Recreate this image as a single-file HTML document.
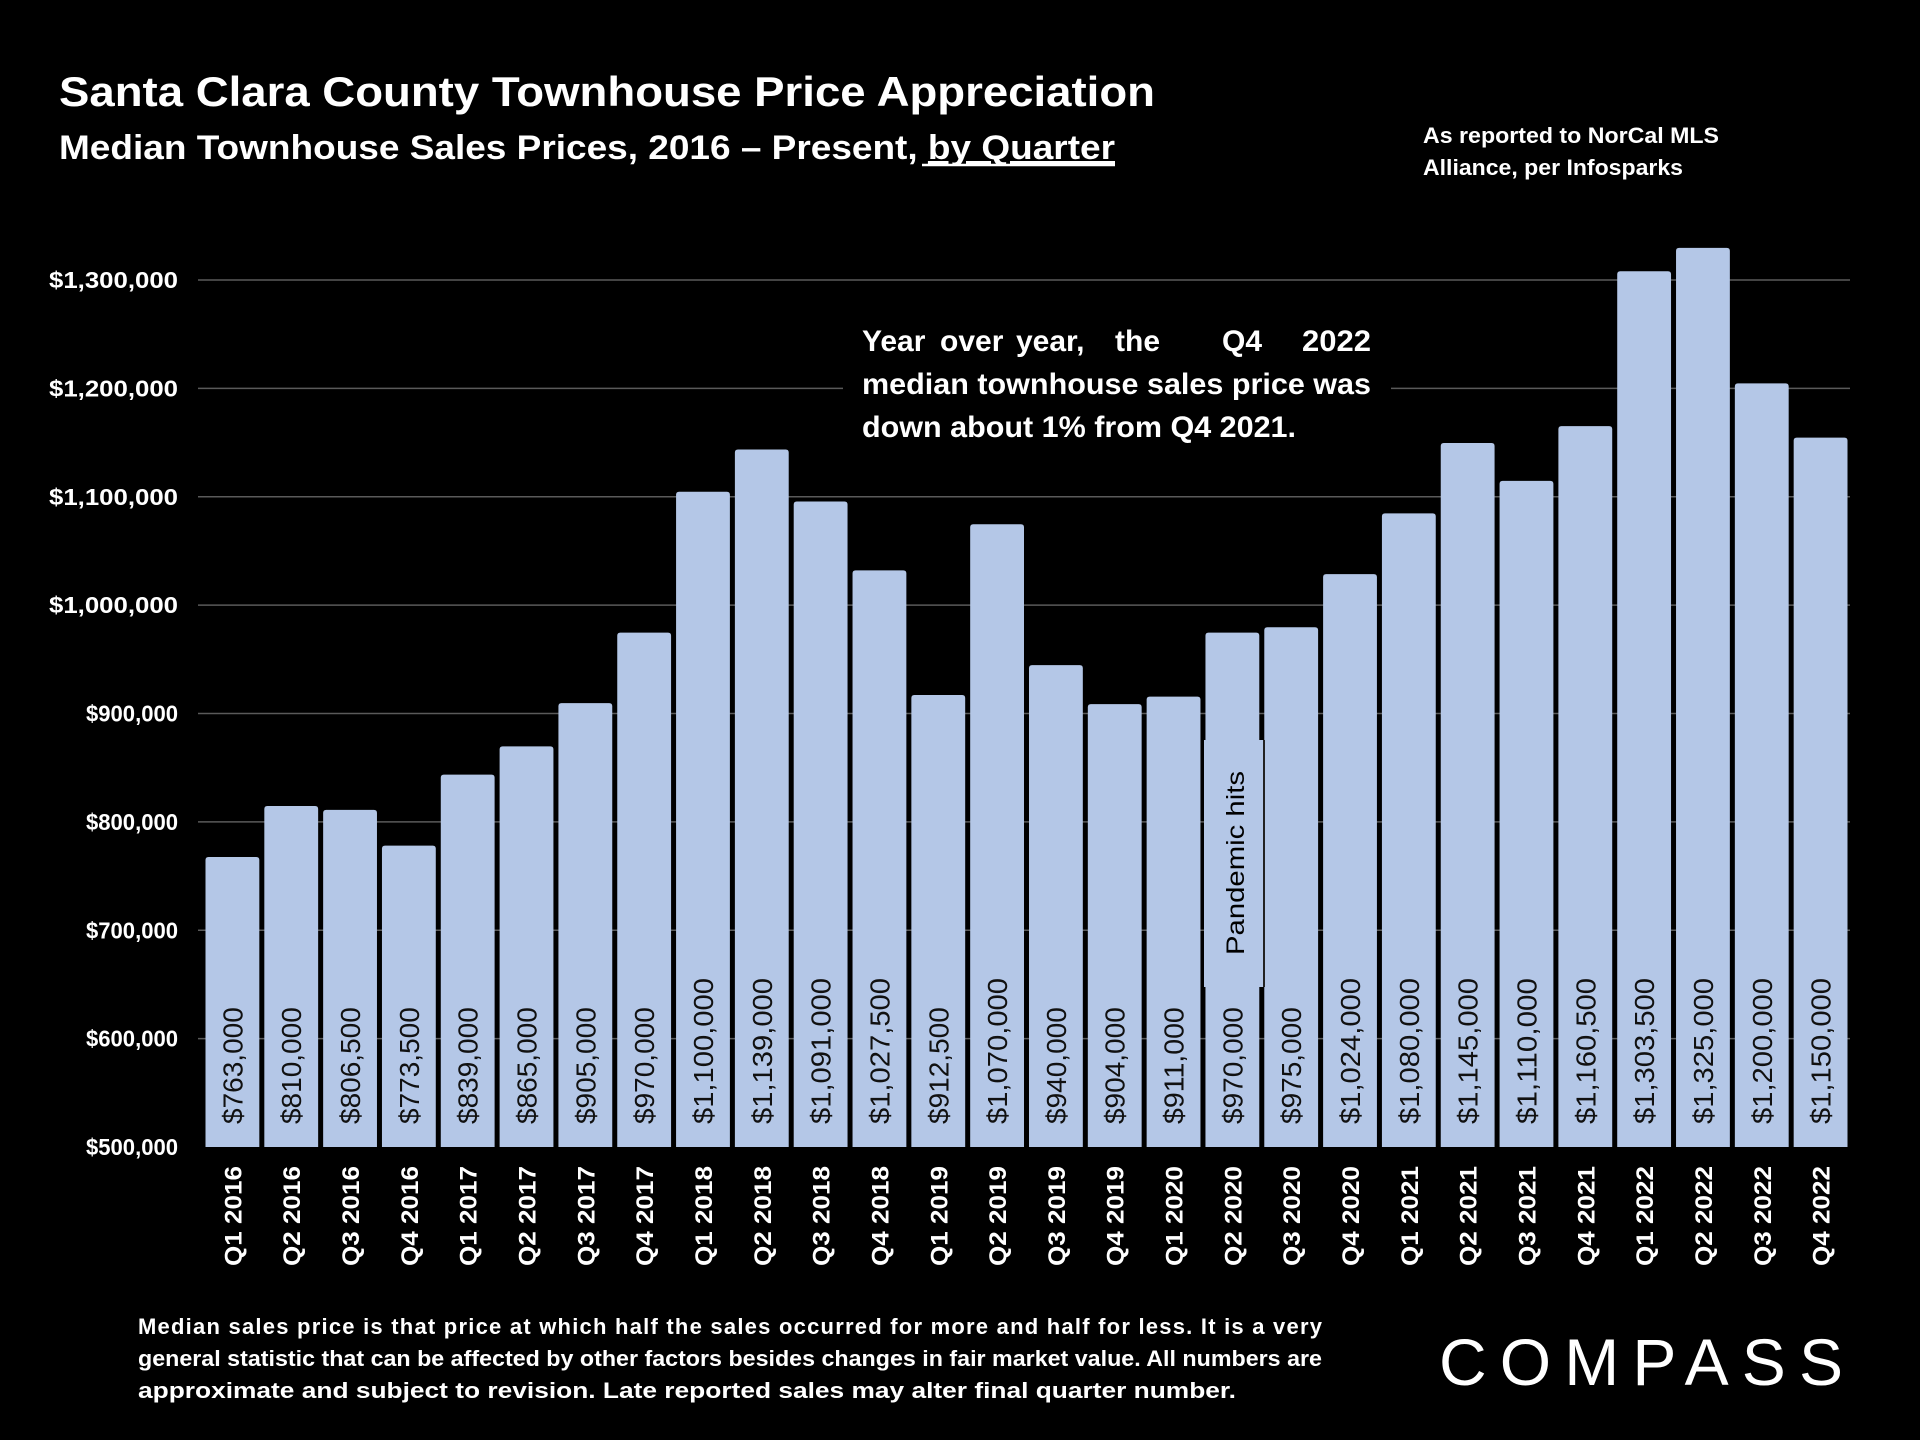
<!DOCTYPE html>
<html><head><meta charset="utf-8"><style>
html,body{margin:0;padding:0;background:#000;}
svg{display:block;}
text{font-family:"Liberation Sans",sans-serif;}
</style></head><body>
<svg id="chart" width="1920" height="1440" viewBox="0 0 1920 1440" xmlns="http://www.w3.org/2000/svg">
<rect width="1920" height="1440" fill="#000"/>
<text x="59" y="106" fill="#fff" font-size="42" font-weight="bold" textLength="1096" lengthAdjust="spacingAndGlyphs">Santa Clara County Townhouse Price Appreciation</text>
<text x="59" y="159" fill="#fff" font-size="34" font-weight="bold" textLength="1056" lengthAdjust="spacingAndGlyphs">Median Townhouse Sales Prices, 2016 – Present, <tspan text-decoration="underline">by Quarter</tspan></text>
<line x1="922" y1="165" x2="1115" y2="165" stroke="#fff" stroke-width="2.5"/>
<text fill="#fff" font-size="22" font-weight="bold"><tspan x="1423" y="143" textLength="296" lengthAdjust="spacingAndGlyphs">As reported to NorCal MLS</tspan><tspan x="1423" y="175" textLength="260" lengthAdjust="spacingAndGlyphs">Alliance, per Infosparks</tspan></text>
<g id="grid"></g>
<g id="yaxis"></g>
<g id="bars"></g>
<g id="xaxis"></g>
<rect x="843" y="318" width="548" height="132" fill="#000"/>
<text fill="#fff" font-size="30" font-weight="bold"><tspan x="862" y="351">Year</tspan><tspan x="940" y="351">over</tspan><tspan x="1016" y="351">year,</tspan><tspan x="1115" y="351">the</tspan><tspan x="1222" y="351">Q4</tspan><tspan x="1302" y="351" textLength="69" lengthAdjust="spacingAndGlyphs">2022</tspan><tspan x="862" y="394" textLength="509" lengthAdjust="spacingAndGlyphs">median townhouse sales price was</tspan><tspan x="862" y="437" textLength="434" lengthAdjust="spacingAndGlyphs">down about 1% from Q4 2021.</tspan></text>
<g>
<rect x="1204" y="740" width="60" height="247" fill="#b4c7e7"/>
<line x1="1264" y1="740" x2="1264" y2="987" stroke="#222" stroke-width="2"/>
<text x="1244" y="955" transform="rotate(-90 1244 955)" fill="#000" font-size="25" textLength="184" lengthAdjust="spacingAndGlyphs">Pandemic hits</text>
</g>
<text fill="#fff" font-size="22" font-weight="bold"><tspan x="138" y="1334" textLength="1184" lengthAdjust="spacing">Median sales price is that price at which half the sales occurred for more and half for less. It is a very</tspan><tspan x="138" y="1366" textLength="1184" lengthAdjust="spacingAndGlyphs">general statistic that can be affected by other factors besides changes in fair market value. All numbers are</tspan><tspan x="138" y="1398" textLength="1098" lengthAdjust="spacingAndGlyphs">approximate and subject to revision. Late reported sales may alter final quarter number.</tspan></text>
<text x="1439" y="1385" fill="#fff" font-size="66" textLength="404" lengthAdjust="spacing">COMPASS</text>
</svg>
<script>
const categories = ["Q1 2016","Q2 2016","Q3 2016","Q4 2016","Q1 2017","Q2 2017","Q3 2017","Q4 2017","Q1 2018","Q2 2018","Q3 2018","Q4 2018","Q1 2019","Q2 2019","Q3 2019","Q4 2019","Q1 2020","Q2 2020","Q3 2020","Q4 2020","Q1 2021","Q2 2021","Q3 2021","Q4 2021","Q1 2022","Q2 2022","Q3 2022","Q4 2022"];
const values = [763000,810000,806500,773500,839000,865000,905000,970000,1100000,1139000,1091000,1027500,912500,1070000,940000,904000,911000,970000,975000,1024000,1080000,1145000,1110000,1160500,1303500,1325000,1200000,1150000];
const valueLabels = ["$763,000","$810,000","$806,500","$773,500","$839,000","$865,000","$905,000","$970,000","$1,100,000","$1,139,000","$1,091,000","$1,027,500","$912,500","$1,070,000","$940,000","$904,000","$911,000","$970,000","$975,000","$1,024,000","$1,080,000","$1,145,000","$1,110,000","$1,160,500","$1,303,500","$1,325,000","$1,200,000","$1,150,000"];
const yTicks = [500000,600000,700000,800000,900000,1000000,1100000,1200000,1300000];
const yTickLabels = ["$500,000","$600,000","$700,000","$800,000","$900,000","$1,000,000","$1,100,000","$1,200,000","$1,300,000"];

const NS = "http://www.w3.org/2000/svg";
const plotL = 203, plotR = 1850, yMin = 500000, yMax = 1300000, pxMin = 1147, pxMax = 280;
const slot = (plotR - plotL) / categories.length;
function yScale(v){ return pxMin - (v - yMin) / (yMax - yMin) * (pxMin - pxMax); }
function xScale(i){ return plotL + i * slot; }
function mk(tag, attrs, parent){ const e = document.createElementNS(NS, tag); for (const k in attrs) e.setAttribute(k, attrs[k]); parent.appendChild(e); return e; }

const grid = document.getElementById('grid'), yaxis = document.getElementById('yaxis');
yTicks.forEach((t, i) => {
  const y = yScale(t);
  if (i > 0) {
    const l = mk('line', {x1: 198, x2: plotR, y1: y, y2: y, stroke: '#5a5a5a', 'stroke-width': 1.5}, grid);
    
    
  }
  const len = yTickLabels[i].length;
  const tx = mk('text', {x: 178, y: y + 8, fill: '#fff', 'font-size': 23, 'font-weight': 'bold', 'text-anchor': 'end', textLength: (18.5 * len - 56).toFixed(0), lengthAdjust: 'spacingAndGlyphs'}, yaxis);
  
  
  tx.textContent = yTickLabels[i];
});

const bars = document.getElementById('bars'), xaxis = document.getElementById('xaxis');
const bw = slot - 5;
values.forEach((v, i) => {
  const x = xScale(i) + 2.5, y = yScale(v) - 5;
  const r = mk('path', {d: `M${x},${pxMin} V${y+3} Q${x},${y} ${x+3},${y} H${x+bw-3} Q${x+bw},${y} ${x+bw},${y+3} V${pxMin} Z`, fill: '#b4c7e7'}, bars);
  
  
  const cx = x + bw / 2 + 10, by = 1124;
  const vl = mk('text', {x: cx, y: by, transform: `rotate(-90 ${cx} ${by})`, fill: '#111', 'font-size': 28}, bars);
  
  
  vl.setAttribute('textLength', (valueLabels[i].length * 14.6).toFixed(1));
  vl.setAttribute('lengthAdjust', 'spacingAndGlyphs');
  vl.textContent = valueLabels[i];
  const ly = 1166;
  const xl = mk('text', {x: cx - 1, y: ly, transform: `rotate(-90 ${cx - 1} ${ly})`, fill: '#fff', 'font-size': 24, 'font-weight': 'bold', 'text-anchor': 'end', textLength: 100, lengthAdjust: 'spacingAndGlyphs'}, xaxis);
  
  
  xl.textContent = categories[i];
});
</script>
</body></html>
